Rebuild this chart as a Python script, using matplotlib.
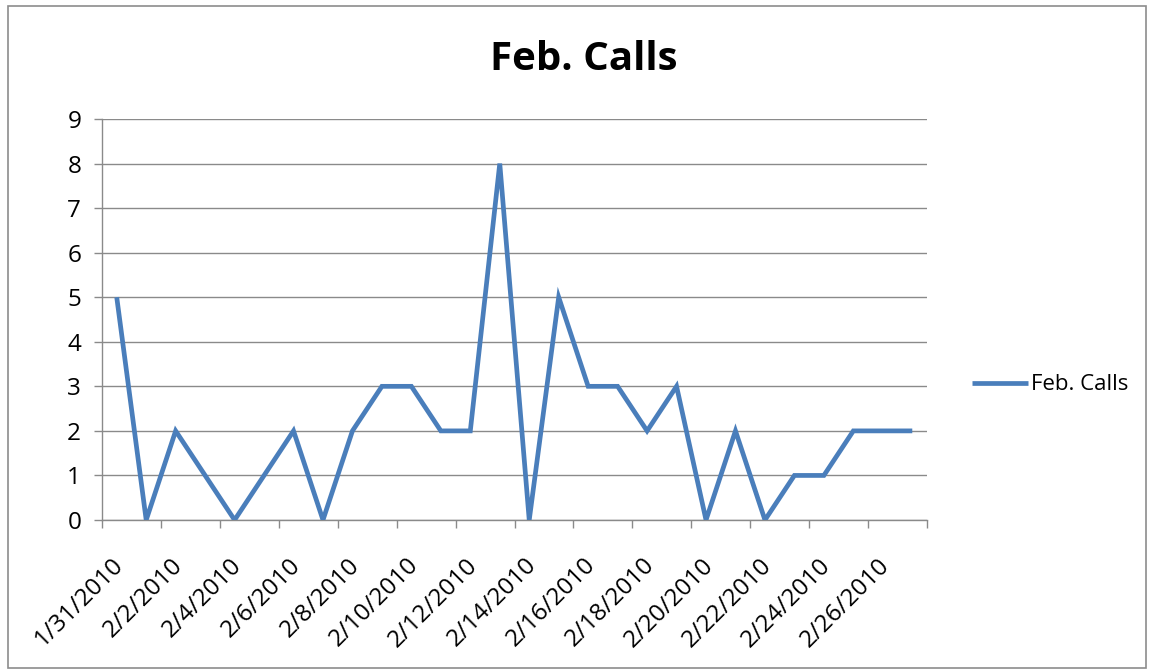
import matplotlib
matplotlib.use("Agg")
import matplotlib.pyplot as plt
from matplotlib.patches import Rectangle
from matplotlib.transforms import ScaledTranslation
import numpy as np

dates = ["1/31/2010", "2/1/2010", "2/2/2010", "2/3/2010", "2/4/2010", "2/5/2010", "2/6/2010",
         "2/7/2010", "2/8/2010", "2/9/2010", "2/10/2010", "2/11/2010", "2/12/2010", "2/13/2010",
         "2/14/2010", "2/15/2010", "2/16/2010", "2/17/2010", "2/18/2010", "2/19/2010", "2/20/2010",
         "2/21/2010", "2/22/2010", "2/23/2010", "2/24/2010", "2/25/2010", "2/26/2010", "2/27/2010"]
calls = [5, 0, 2, 1, 0, 1, 2, 0, 2, 3, 3, 2, 2, 8, 0, 5, 3, 3, 2, 3, 0, 2, 0, 1, 1, 2, 2, 2]
series_name = "Feb. Calls"
title = "Feb. Calls"
yticks = list(range(0, 10))

plt.rcParams['font.family'] = ['Open Sans', 'DejaVu Sans']

W, H = 1149, 672
fig = plt.figure(figsize=(W / 100, H / 100), dpi=100)
fig.patch.set_facecolor("white")
fig.patches.append(Rectangle((8 / W, 4 / H), 1138 / W, 662 / H, transform=fig.transFigure,
                             fill=False, edgecolor="#8c8c8c", linewidth=1.2))

left, right, top, bottom = 102, 927, 119, 520
ax = fig.add_axes([left / W, 1 - bottom / H, (right - left) / W, (bottom - top) / H])

n = len(dates)
x = np.arange(n)
line, = ax.plot(x, calls, color="#4A7EBB", linewidth=3.4, solid_joinstyle="miter",
                solid_capstyle="butt", label=series_name, zorder=3)

ax.set_xlim(-0.5, n - 0.5)
ax.set_ylim(0, 9)
ax.set_yticks(yticks)
ax.set_yticklabels([str(v) for v in yticks])
ax.yaxis.grid(True, color="#8a8a8a", linewidth=1.0)
ax.set_axisbelow(True)

# labels at every second category, tick marks at category boundaries
ax.set_xticks(x[::2])
ax.set_xticklabels(dates[::2], rotation=45, ha="right", va="top", rotation_mode="anchor")
ax.set_xticks(np.arange(-0.5, n, 2), minor=True)
ax.tick_params(axis="x", which="major", length=0, pad=24, labelsize=17.5, colors="black")
ax.tick_params(axis="x", which="minor", length=6, width=1, color="#8a8a8a")
ax.tick_params(axis="y", length=6, width=1, color="#8a8a8a", labelsize=17.5, pad=9)
off = ScaledTranslation(-5 / 100, 0, fig.dpi_scale_trans)
for lab in ax.get_xticklabels():
    lab.set_transform(lab.get_transform() + off)

for s in ["top", "right"]:
    ax.spines[s].set_visible(False)
for s in ["left", "bottom"]:
    ax.spines[s].set_color("#8a8a8a")
    ax.spines[s].set_linewidth(1.0)

fig.text(584 / W, 1 - 60 / H, title, ha="center", va="center", fontsize=29, fontweight="bold")

leg = fig.legend(handles=[line], loc="center left", bbox_to_anchor=(972 / W, 1 - 385 / H),
                 frameon=False, fontsize=16, handlelength=2.5, handletextpad=0.15,
                 borderpad=0, borderaxespad=0)

fig.savefig("out.png", dpi=100)
